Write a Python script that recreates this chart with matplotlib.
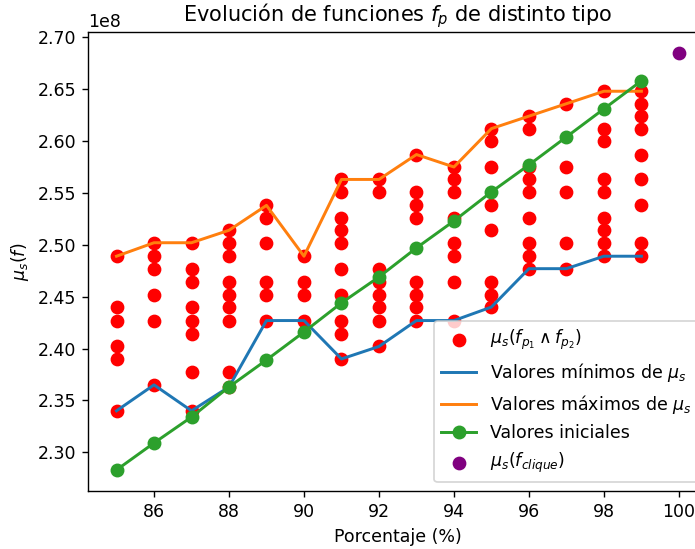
import numpy as np
import matplotlib
matplotlib.use("Agg")
import matplotlib.pyplot as plt

# porcentajes (eje x)
porcentajes = [85, 86, 87, 88, 89, 90, 91, 92, 93, 94, 95, 96, 97, 98, 99]

# mu_s(f_p1 ^ f_p2) for each porcentaje (x1e8)
mu_comb = [
    [2.489, 2.440, 2.427, 2.402, 2.390, 2.340],
    [2.502, 2.489, 2.477, 2.452, 2.427, 2.365],
    [2.502, 2.477, 2.464, 2.440, 2.427, 2.414, 2.377, 2.340],
    [2.514, 2.502, 2.489, 2.464, 2.452, 2.440, 2.427, 2.377, 2.363],
    [2.538, 2.526, 2.502, 2.464, 2.452, 2.427],
    [2.489, 2.464, 2.452, 2.427],
    [2.563, 2.551, 2.526, 2.514, 2.502, 2.477, 2.452, 2.427, 2.414, 2.390],
    [2.563, 2.551, 2.477, 2.464, 2.452, 2.440, 2.427, 2.402],
    [2.587, 2.551, 2.538, 2.526, 2.464, 2.452, 2.440, 2.427],
    [2.575, 2.563, 2.551, 2.526, 2.502, 2.489, 2.464, 2.427],
    [2.612, 2.600, 2.575, 2.538, 2.514, 2.464, 2.452, 2.440],
    [2.624, 2.612, 2.575, 2.563, 2.551, 2.526, 2.502, 2.489, 2.477],
    [2.636, 2.575, 2.551, 2.502, 2.477],
    [2.648, 2.612, 2.600, 2.563, 2.551, 2.526, 2.514, 2.502, 2.489],
    [2.648, 2.636, 2.624, 2.612, 2.587, 2.563, 2.538, 2.502, 2.489],
]

# valores iniciales (x1e8)
iniciales = [2.283, 2.309, 2.334, 2.363, 2.389, 2.416, 2.444, 2.469,
             2.497, 2.523, 2.551, 2.577, 2.604, 2.631, 2.658]

# clique
clique_pct = 100
clique_val = 2.685

scale = 1e8

xs = []
ys = []
for p, vals in zip(porcentajes, mu_comb):
    for v in vals:
        xs.append(p)
        ys.append(v * scale)

minimos = [min(v) * scale for v in mu_comb]
maximos = [max(v) * scale for v in mu_comb]

fig = plt.figure(figsize=(695 / 125, 549 / 125), dpi=125)
ax = fig.add_axes([88.4 / 695, 0.106, 618.6 / 695, 0.8357])

ax.scatter(xs, ys, color="red", s=48, label=r"$\mu_s(f_{p_1} \wedge f_{p_2})$")
ax.plot(porcentajes, minimos, lw=1.7, label=r"Valores mínimos de $\mu_s$")
ax.plot(porcentajes, maximos, lw=1.7, label=r"Valores máximos de $\mu_s$")
ax.plot(porcentajes, np.array(iniciales) * scale, "o-", lw=1.7, ms=7,
        label="Valores iniciales")
ax.scatter([clique_pct], [clique_val * scale], color="purple", s=48,
           label=r"$\mu_s(f_{clique})$")

ax.set_title(r"Evolución de funciones $f_p$ de distinto tipo")
ax.set_xlabel("Porcentaje (%)")
ax.set_ylabel(r"$\mu_s(f)$")
ax.set_xticks([86, 88, 90, 92, 94, 96, 98, 100])
ax.legend(loc="lower right")

fig.savefig("out.png", dpi=125)
